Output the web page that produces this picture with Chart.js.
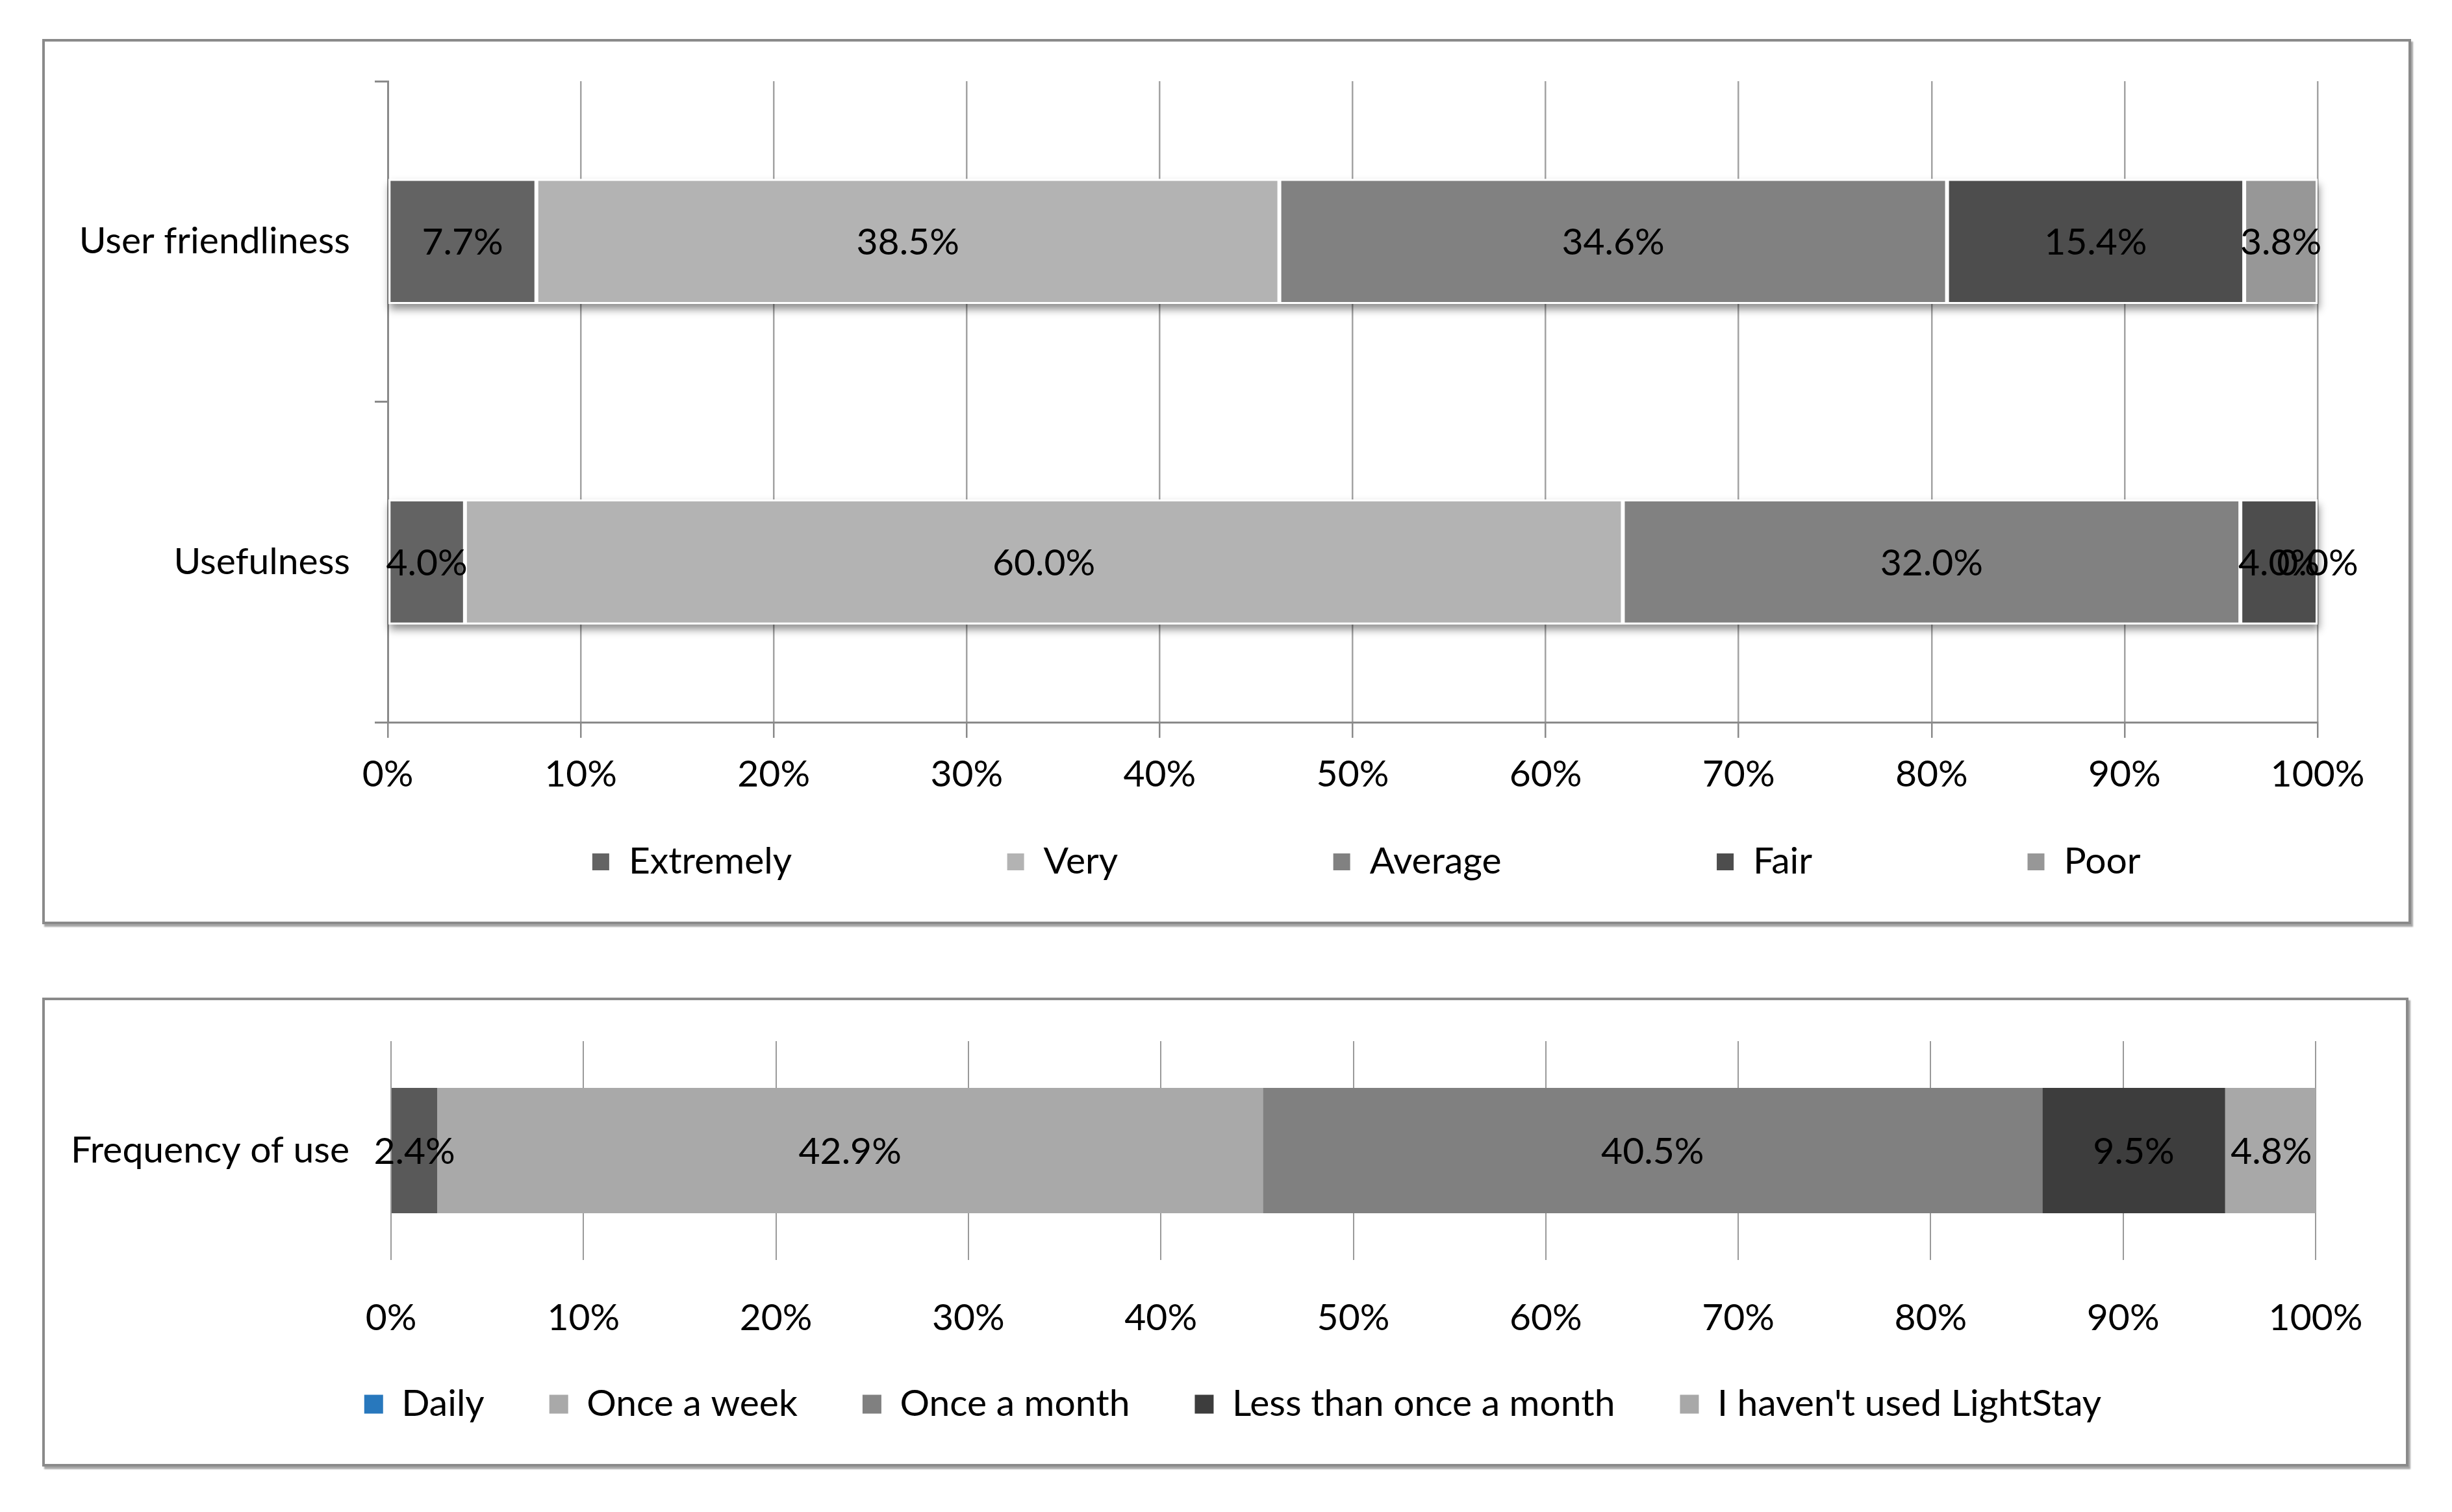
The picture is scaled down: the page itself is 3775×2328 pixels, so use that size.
<!DOCTYPE html>
<html>
<head>
<meta charset="utf-8">
<script src="https://cdn.jsdelivr.net/npm/chart.js@4.4.1/dist/chart.umd.min.js"></script>
<style>
  html, body { margin: 0; padding: 0; background: #ffffff; }
  body { width: 3775px; height: 2328px; position: relative; overflow: hidden; }
  .box { position: absolute; box-sizing: border-box; border: 4px solid #8a8a8a; background: #fff;
         box-shadow: 3px 4px 2px rgba(0,0,0,0.35); }
  .wrap { position: relative; }
</style>
</head>
<body>
<div class="box" style="left:65px; top:60px; width:3647px; height:1363px;">
  <div class="wrap" style="width:3639px; height:1355px;"><canvas id="topChart"></canvas></div>
</div>
<div class="box" style="left:65px; top:1536px; width:3643px; height:722px;">
  <div class="wrap" style="width:3635px; height:714px;"><canvas id="bottomChart"></canvas></div>
</div>
<script>
// ---------- data ----------
const topCategories = ['User friendliness', 'Usefulness'];
const topSeriesNames = ['Extremely', 'Very', 'Average', 'Fair', 'Poor'];
const extremelyValues = [7.7, 4.0];
const veryValues = [38.5, 60.0];
const averageValues = [34.6, 32.0];
const fairValues = [15.4, 4.0];
const poorValues = [3.8, 0.0];
const topColors = ['#636363', '#b3b3b3', '#818181', '#4d4d4d', '#979797'];

const bottomCategories = ['Frequency of use'];
const bottomSeriesNames = ['Daily', 'Once a week', 'Once a month', 'Less than once a month', "I haven't used LightStay"];
const dailyValues = [2.4];
const onceWeekValues = [42.9];
const onceMonthValues = [40.5];
const lessThanMonthValues = [9.5];
const notUsedValues = [4.8];
const bottomBarColors = ['#595959', '#a9a9a9', '#808080', '#3d3d3d', '#a8a8a8'];
const bottomLegendColors = ['#2878bd', '#a9a9a9', '#808080', '#3d3d3d', '#a8a8a8'];

const axisMin = 0, axisMax = 100, axisStep = 10;
const tickLabel = v => v + '%';

// ---------- styling ----------
const FONT = 57;
Chart.defaults.font.family = 'Lato, "Open Sans", sans-serif';
Chart.defaults.font.size = FONT;
Chart.defaults.font.lineHeight = 1.2;
Chart.defaults.color = '#000000';

// ---------- plugins ----------
const segmentLabels = {
  id: 'segmentLabels',
  afterDatasetsDraw(chart) {
    const ctx = chart.ctx;
    ctx.save();
    ctx.font = FONT + 'px ' + Chart.defaults.font.family;
    ctx.fillStyle = '#000000';
    ctx.textAlign = 'center';
    ctx.textBaseline = 'middle';
    chart.data.datasets.forEach((ds, di) => {
      const meta = chart.getDatasetMeta(di);
      meta.data.forEach((bar, i) => {
        const p = bar.getProps(['x', 'y', 'base'], true);
        ctx.fillText(ds.data[i].toFixed(1) + '%', (p.x + p.base) / 2, p.y + 2);
      });
    });
    ctx.restore();
  }
};

const barShadow = {
  id: 'barShadow',
  beforeDatasetsDraw(chart, args, opts) {
    if (!opts.enabled) return;
    const ctx = chart.ctx;
    const metas = chart.getSortedVisibleDatasetMetas();
    ctx.save();
    ctx.shadowColor = 'rgba(0,0,0,0.45)';
    ctx.shadowBlur = 12;
    ctx.shadowOffsetX = 2;
    ctx.shadowOffsetY = 8;
    ctx.fillStyle = '#ffffff';
    chart.data.labels.forEach((lab, i) => {
      let l = Infinity, r = -Infinity, t = 0, b = 0;
      metas.forEach(m => {
        const p = m.data[i].getProps(['x', 'y', 'base', 'height'], true);
        l = Math.min(l, p.x, p.base); r = Math.max(r, p.x, p.base);
        t = p.y - p.height / 2; b = p.y + p.height / 2;
      });
      r = Math.min(r, chart.chartArea.right);
      ctx.fillRect(l, t, r - l, b - t);
    });
    ctx.restore();
  }
};

const legendPlace = {
  id: 'legendPlace',
  afterLayout(chart, args, opts) {
    const lg = chart.legend;
    if (!lg) return;
    const pad = lg.options.labels.padding;
    const top = opts.cy - pad - opts.itemHeight / 2;
    const dx = opts.cx - (lg.left + lg.right) / 2;
    lg.left += dx; lg.right += dx;
    lg.top = top; lg.bottom = top + pad + opts.itemHeight + 10;
  }
};

function makeDatasets(names, valueLists, colors, border) {
  return names.map((n, i) => ({
    label: n,
    data: valueLists[i],
    backgroundColor: colors[i],
    borderColor: '#ffffff',
    borderWidth: border,
    borderSkipped: false
  }));
}

function fixYAxis(width) {
  return s => { s.width = width; s.paddingTop = 0; s.paddingBottom = 0; };
}

// ---------- top chart ----------
new Chart(document.getElementById('topChart'), {
  type: 'bar',
  data: {
    labels: topCategories,
    datasets: makeDatasets(topSeriesNames,
      [extremelyValues, veryValues, averageValues, fairValues, poorValues], topColors, 3)
  },
  options: {
    indexAxis: 'y',
    responsive: true,
    maintainAspectRatio: false,
    animation: false,
    events: [],
    datasets: { bar: { categoryPercentage: 1.0, barPercentage: 0.39 } },
    layout: { padding: { top: 61, right: 140, left: 0, bottom: 57 } },
    scales: {
      x: {
        stacked: true, min: axisMin, max: axisMax,
        ticks: { stepSize: axisStep, callback: tickLabel, padding: 22, color: '#000' },
        grid: { color: '#a3a3a3', lineWidth: 2.5, drawTicks: true, tickLength: 24, tickColor: '#8a8a8a', tickWidth: 2.5 },
        border: { display: true, color: '#8a8a8a', width: 3 },
        afterFit: s => { s.height = 150; }
      },
      y: {
        stacked: true,
        ticks: { padding: 38, color: '#000' },
        grid: { drawOnChartArea: false, drawTicks: true, tickLength: 20, offset: true, color: '#8a8a8a', lineWidth: 3 },
        border: { display: true, color: '#8a8a8a', width: 3 },
        afterFit: fixYAxis(528)
      }
    },
    plugins: {
      tooltip: { enabled: false },
      legend: {
        position: 'bottom',
        maxHeight: 100,
        labels: { boxWidth: 29, boxHeight: 29, padding: 330, color: '#000', font: { size: FONT } }
      },
      legendPlace: { cx: 2034, cy: 1263, itemHeight: FONT },
      barShadow: { enabled: true }
    }
  },
  plugins: [legendPlace, barShadow, segmentLabels]
});

// ---------- bottom chart ----------
new Chart(document.getElementById('bottomChart'), {
  type: 'bar',
  data: {
    labels: bottomCategories,
    datasets: makeDatasets(bottomSeriesNames,
      [dailyValues, onceWeekValues, onceMonthValues, lessThanMonthValues, notUsedValues], bottomBarColors, 0)
  },
  options: {
    indexAxis: 'y',
    responsive: true,
    maintainAspectRatio: false,
    animation: false,
    events: [],
    datasets: { bar: { categoryPercentage: 1.0, barPercentage: 0.573 } },
    layout: { padding: { top: 63, right: 139, left: 0, bottom: 94 } },
    scales: {
      x: {
        stacked: true, min: axisMin, max: axisMax,
        ticks: { stepSize: axisStep, callback: tickLabel, padding: 55, color: '#000' },
        grid: { color: '#9a9a9a', lineWidth: 2, drawTicks: false },
        border: { display: false },
        afterFit: s => { s.height = 120; }
      },
      y: {
        stacked: true,
        ticks: { padding: 56, color: '#000' },
        grid: { display: false },
        border: { display: false },
        afterFit: fixYAxis(533)
      }
    },
    plugins: {
      tooltip: { enabled: false },
      legend: {
        position: 'bottom',
        maxHeight: 100,
        labels: {
          boxWidth: 29, boxHeight: 29, padding: 100, color: '#000', font: { size: FONT },
          generateLabels: chart => chart.data.datasets.map((ds, i) => ({
            text: ds.label, fillStyle: bottomLegendColors[i], strokeStyle: bottomLegendColors[i],
            lineWidth: 0, hidden: false, datasetIndex: i, fontColor: '#000'
          }))
        }
      },
      legendPlace: { cx: 1829, cy: 622, itemHeight: FONT },
      barShadow: { enabled: false }
    }
  },
  plugins: [legendPlace, barShadow, segmentLabels]
});
</script>
</body>
</html>
